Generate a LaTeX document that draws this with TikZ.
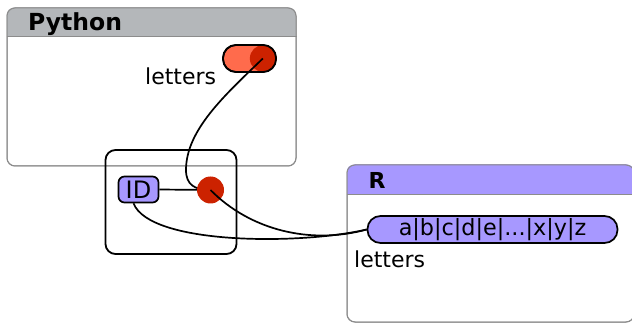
\documentclass[tikz,border=0pt]{standalone}
\usepackage{fontspec}
\setmainfont{DejaVu Sans}
\usetikzlibrary{calc}

\definecolor{hdrgrey}{HTML}{B4B7BA}
\definecolor{framegrey}{HTML}{8C8C8C}
\definecolor{rpurple}{HTML}{A798FF}
\definecolor{pylight}{HTML}{FF6B4C}
\definecolor{pydark}{HTML}{CC2200}

\tikzset{
  frame/.style={draw=framegrey, line width=1pt, rounded corners=8pt,
    rectangle, inner sep=0pt},
  hdrtext/.style={font=\fontsize{23.5}{26}\selectfont\bfseries, anchor=base west, inner sep=0pt},
  lbl/.style={font=\fontsize{22}{24}\selectfont, anchor=base west, inner sep=0pt},
  pill/.style={draw=black, line width=1.7pt, rectangle, inner sep=0pt,
    rounded corners=13pt, minimum height=27pt},
  conn/.style={draw=black, line width=1.7pt},
}

\begin{document}
\begin{tikzpicture}[x=1pt, y=-1pt]
\useasboundingbox (0,0) rectangle (632,323);
\clip (0,0) rectangle (632,323);

% ---- Python frame ----
\node[frame, minimum width=289pt, minimum height=158pt] (py) at (151.5,87) {};
\begin{scope}
  \clip[rounded corners=8pt] (py.north west) rectangle (py.south east);
  \fill[hdrgrey] (py.north west) rectangle ($(py.north east)+(0,29)$);
\end{scope}
\node[frame, minimum width=289pt, minimum height=158pt] at (py) {};
\draw[framegrey, line width=1pt] ($(py.north west)+(0,29)$) -- ($(py.north east)+(0,29)$);
\node[hdrtext] (pytitle) at (28,31) {Python};

% ---- R frame ----
\node[frame, minimum width=287pt, minimum height=157pt] (rf) at (490.5,243.5) {};
\begin{scope}
  \clip[rounded corners=8pt] (rf.north west) rectangle (rf.south east);
  \fill[rpurple] (rf.north west) rectangle ($(rf.north east)+(0,30)$);
\end{scope}
\node[frame, minimum width=287pt, minimum height=157pt] at (rf) {};
\draw[framegrey, line width=1pt] ($(rf.north west)+(0,30)$) -- ($(rf.north east)+(0,30)$);
\node[hdrtext, font=\fontsize{22}{24}\selectfont\bfseries] (rtitle) at (368.5,189) {R};

% ---- Python list object ----
\node[pill, fill=pylight, minimum width=53pt] (pypill) at (249.5,58.5) {};
\begin{scope}
  \clip[rounded corners=13pt] (pypill.north west) rectangle (pypill.south east);
  \fill[pydark] ($(pypill.east)+(-13.5,0)$) circle[radius=13.5];
\end{scope}
\node[pill, minimum width=53pt] at (pypill) {};
\coordinate (pyref) at ($(pypill.east)+(-14,0)$);
\node[lbl] (pylbl) at (145,85) {letters};

% ---- proxy box ----
\node[draw=black, line width=1.8pt, rounded corners=10pt, rectangle,
      minimum width=131pt, minimum height=104pt] (proxy) at (171,202) {};
\node[draw=black, line width=1.7pt, fill=rpurple, rounded corners=6pt,
      minimum width=40pt, minimum height=26pt, inner sep=0pt,
      font=\fontsize{24}{26}\selectfont] (id) at (138.5,189.5) {ID};

% ---- R vector ----
\node[pill, fill=rpurple, minimum width=250pt,
      font=\fontsize{22.3}{24}\selectfont] (rvec) at (492.5,229.5) {a|b|c|d|e|...|x|y|z};
\node[lbl] (rlbl) at (354,268) {letters};

% ---- connectors ----
\coordinate (dotc) at (210.5,190);
\draw[conn] (pyref) .. controls (225,95) and (186,130) .. (186,170)
  .. controls (186,185) and (195,190) .. (dotc);
\draw[conn] (id.east) -- (dotc);
\draw[conn] ([xshift=-5pt]id.south) .. controls (150,245) and (300,245) .. (rvec.west);
\node[circle, fill=pydark, minimum size=27pt, inner sep=0pt] (dot) at (dotc) {};
\draw[conn] (dot.center) .. controls (250,230) and (310,245) .. (rvec.west);
\end{tikzpicture}
\end{document}
